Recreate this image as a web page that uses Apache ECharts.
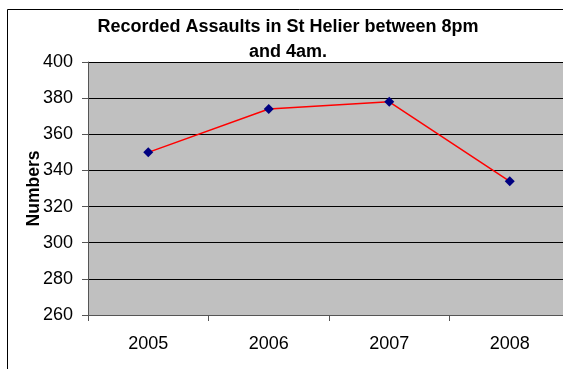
<!DOCTYPE html>
<html><head><meta charset="utf-8">
<script src="https://cdn.jsdelivr.net/npm/echarts@6/dist/echarts.min.js"></script>
<style>html,body{margin:0;padding:0;background:#fff;overflow:hidden;width:563px;height:369px;}#c{width:590px;height:369px;}</style>
</head><body><div id="c"></div>
<script>
const categories = ['2005', '2006', '2007', '2008'];
const assaults = [350, 374, 378, 334];
const yTicks = [260, 280, 300, 320, 340, 360, 380, 400];
const titleText = 'Recorded Assaults in St Helier between 8pm\nand 4am.';
const yName = 'Numbers';

const chart = echarts.init(document.getElementById('c'), null, {renderer: 'canvas'});
chart.setOption({
  animation: false,
  backgroundColor: '#fff',
  graphic: [{
    type: 'rect', shape: {x: 7.5, y: 9.5, width: 600, height: 400},
    style: {fill: 'none', stroke: '#000', lineWidth: 1}, z: 100
  }],
  title: {
    text: titleText, left: 283, textAlign: 'center', top: 10,
    textStyle: {fontFamily: 'Liberation Sans, Arial', fontSize: 18, fontWeight: 'bold', color: '#000', lineHeight: 25}
  },
  grid: {left: 88, top: 62, width: 482, height: 253, backgroundColor: '#c0c0c0', show: true, borderWidth: 0},
  xAxis: {
    type: 'category', data: categories, boundaryGap: true,
    axisLine: {lineStyle: {color: '#555', width: 1}},
    axisTick: {show: true, length: 6, lineStyle: {color: '#555'}},
    axisLabel: {color: '#000', fontFamily: 'Liberation Sans, Arial', fontSize: 18, margin: 20}
  },
  yAxis: {
    type: 'value', min: yTicks[0], max: yTicks[yTicks.length - 1], interval: 20,
    name: yName, nameLocation: 'middle', nameGap: 45, nameRotate: 90, nameMoveOverlap: false,
    nameTextStyle: {color: '#000', fontFamily: 'Liberation Sans, Arial', fontSize: 17.5, fontWeight: 'bold'},
    axisLine: {show: true, lineStyle: {color: '#555', width: 1}},
    axisTick: {show: true, length: 6, lineStyle: {color: '#555'}},
    axisLabel: {color: '#000', fontFamily: 'Liberation Sans, Arial', fontSize: 18, margin: 15},
    splitLine: {show: true, lineStyle: {color: '#000', width: 1}}
  },
  series: [{
    type: 'line', data: assaults,
    symbol: 'diamond', symbolSize: 10,
    itemStyle: {color: '#000080'},
    lineStyle: {color: '#ff0000', width: 1.5}
  }]
});
</script></body></html>
